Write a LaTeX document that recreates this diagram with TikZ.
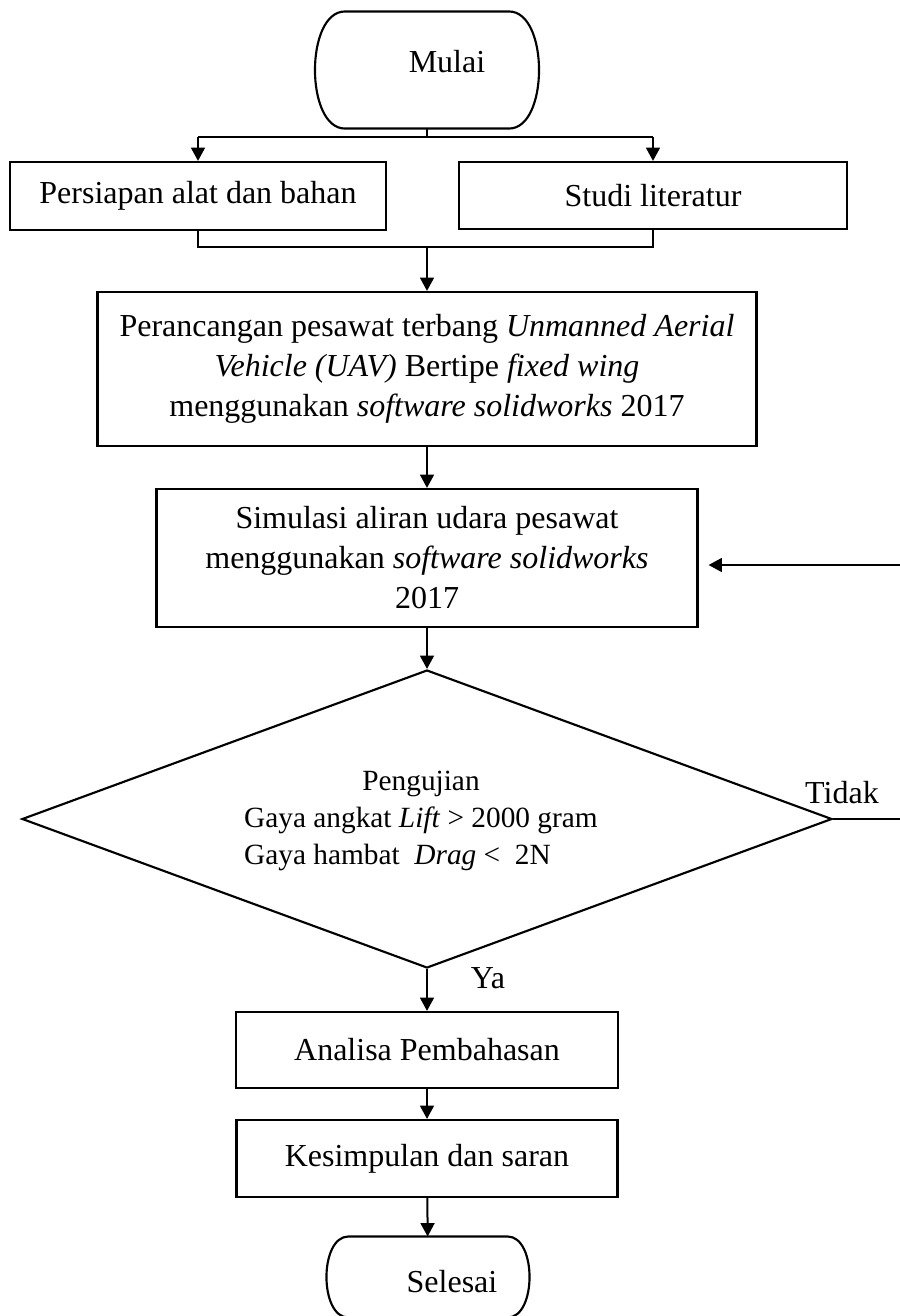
\documentclass[tikz,border=0pt]{standalone}
\usepackage{fontspec}
\setmainfont{Liberation Serif}
\usetikzlibrary{shapes.geometric,arrows.meta}
\newcommand{\pxu}{0.375pt}

\begin{document}
\begin{tikzpicture}[x=\pxu, y=-\pxu,
    font=\fontsize{12}{15}\selectfont,
    kotak/.style={draw, line width=0.8pt, inner sep=0pt, align=center},
    terminal/.style={inner sep=0pt},
    tepi/.style={line width=0.8pt},
    panah/.style={-{Triangle[length=5pt,width=5.2pt]}, line width=0.75pt},
    garis/.style={line width=0.45pt}]

    % Area
    \useasboundingbox (0,0) rectangle (900,1316);
    \clip (0,0) rectangle (900,1316);

    % Mulai
    \node[terminal, minimum width=223*\pxu, minimum height=116*\pxu] (mulai) at (427,70) {};
    \draw[tepi] ([xshift=-11.25pt]mulai.north east)
        .. controls ([xshift=3.75pt]mulai.north east) and ([xshift=3.75pt]mulai.south east) .. ([xshift=-11.25pt]mulai.south east)
        -- ([xshift=11.25pt]mulai.south west)
        .. controls ([xshift=-3.75pt]mulai.south west) and ([xshift=-3.75pt]mulai.north west) .. ([xshift=11.25pt]mulai.north west)
        -- cycle;
    \node (tmulai) at (447,62) {Mulai};

    % Persiapan dan studi
    \node[kotak, minimum width=376*\pxu, minimum height=68*\pxu] (persiapan) at (198,196) {Persiapan alat dan bahan};
    \node[kotak, minimum width=388*\pxu, minimum height=67*\pxu] (studi) at (653,195.5) {Studi literatur};

    % Perancangan
    \node[kotak, minimum width=659*\pxu, minimum height=154*\pxu] (rancang) at (427,369) {Perancangan pesawat terbang \textit{Unmanned Aerial}\\
        \textit{Vehicle (UAV)} Bertipe \textit{fixed wing}\\
        menggunakan \textit{software solidworks} 2017};

    % Simulasi
    \node[kotak, minimum width=541*\pxu, minimum height=138*\pxu] (simulasi) at (427,558) {Simulasi aliran udara pesawat\\
        menggunakan \textit{software solidworks}\\
        2017};

    % Pengujian
    \node[diamond, draw, line width=0.8pt, aspect=2.72, minimum width=810*\pxu, minimum height=298*\pxu, inner sep=0pt] (uji) at (427,819) {};
    \node[font=\fontsize{11}{13.9}\selectfont] (tuji) at (421,820) {\begin{tabular}{@{}l@{}}
        \multicolumn{1}{@{}c@{}}{Pengujian}\\
        Gaya angkat \textit{Lift} > 2000 gram\\
        Gaya hambat \ \textit{Drag} < \ 2N
    \end{tabular}};
    \node (tidak) at (842,793) {Tidak};
    \node (ya) at (488,978) {Ya};

    % Analisa dan kesimpulan
    \node[kotak, minimum width=382*\pxu, minimum height=76*\pxu] (analisa) at (427,1050) {Analisa Pembahasan};
    \node[kotak, minimum width=381*\pxu, minimum height=77*\pxu] (simpulan) at (427,1158.5) {Kesimpulan dan saran};

    % Selesai
    \node[terminal, minimum width=202*\pxu, minimum height=80*\pxu] (selesai) at (428,1277) {};
    \draw[tepi] ([xshift=-8.25pt]selesai.north east)
        .. controls ([xshift=2.75pt]selesai.north east) and ([xshift=2.75pt]selesai.south east) .. ([xshift=-8.25pt]selesai.south east)
        -- ([xshift=8.25pt]selesai.south west)
        .. controls ([xshift=-2.75pt]selesai.south west) and ([xshift=-2.75pt]selesai.north west) .. ([xshift=8.25pt]selesai.north west)
        -- cycle;
    \node (tselesai) at (452,1282) {Selesai};

    % Cabang
    \coordinate (pisah) at (427,137);
    \draw[garis] (mulai.south) -- (pisah);
    \draw[garis] (persiapan.north |- pisah) -- (studi.north |- pisah);
    \draw[panah] (persiapan.north |- pisah) -- (persiapan.north);
    \draw[panah] (studi.north |- pisah) -- (studi.north);

    % Gabung
    \coordinate (gabung) at (427,247);
    \draw[garis] (persiapan.south) |- (gabung) -| (studi.south);
    \draw[panah] (gabung) -- (rancang.north);

    % Alur utama
    \draw[panah] (rancang) -- (simulasi);
    \draw[panah] (simulasi) -- (uji);
    \draw[panah] (uji) -- (analisa);
    \draw[panah] (analisa) -- (simpulan);
    \draw[panah] (simpulan) -- (selesai);

    % Tidak
    \coordinate (balik) at (906,819);
    \draw[garis] (uji.east) -- (balik);
    \draw[panah, shorten >=3.75pt] (balik) |- ([yshift=-7*\pxu]simulasi.east);
\end{tikzpicture}
\end{document}
